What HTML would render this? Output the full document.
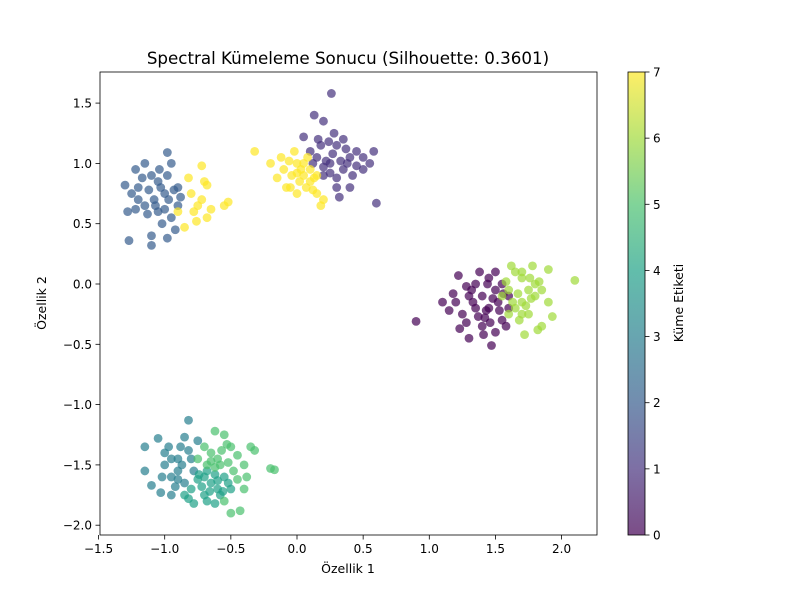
<!DOCTYPE html>
<html><head><meta charset="utf-8"><style>
body{margin:0;background:#fff;}
svg{font-family:"DejaVu Sans","Liberation Sans",sans-serif;}
</style></head><body>
<svg id="chart" width="800" height="600" xmlns="http://www.w3.org/2000/svg">
<text x="348" y="64" font-size="16.7" text-anchor="middle">Spectral Kümeleme Sonucu (Silhouette: 0.3601)</text>
<text x="348" y="573" font-size="12.5" text-anchor="middle">Özellik 1</text>
<text x="46" y="303" font-size="12.5" text-anchor="middle" transform="rotate(-90 46 303)">Özellik 2</text>
<text x="683" y="303" font-size="12.5" text-anchor="middle" transform="rotate(-90 683 303)">Küme Etiketi</text>
<defs><linearGradient id="vir" x1="0" y1="1" x2="0" y2="0">
<stop offset="0" stop-color="#440154"/><stop offset="0.143" stop-color="#46327e"/><stop offset="0.286" stop-color="#365c8d"/><stop offset="0.429" stop-color="#277f8e"/><stop offset="0.571" stop-color="#1fa187"/><stop offset="0.714" stop-color="#4ac16d"/><stop offset="0.857" stop-color="#a0da39"/><stop offset="1" stop-color="#fde725"/>
</linearGradient></defs>
<rect x="628" y="72" width="17" height="463" fill="url(#vir)" opacity="0.7"/>
<rect x="628" y="72" width="17" height="463" fill="none" stroke="#000" stroke-width="0.8"/>
<g id="marks"></g>
<rect x="100" y="72" width="497" height="463" fill="none" stroke="#000" stroke-width="0.8"/>
</svg>
<script>
const xTicks=[-1.5,-1.0,-0.5,0.0,0.5,1.0,1.5,2.0];
const yTicks=[-2.0,-1.5,-1.0,-0.5,0.0,0.5,1.0,1.5];
const cbTicks=[0,1,2,3,4,5,6,7];
const clusterColors=["#440154","#46327e","#365c8d","#277f8e","#1fa187","#4ac16d","#a0da39","#fde725"];
const cluster0=[[1.45,-0.2],[1.3,-0.1],[1.5,-0.05],[1.55,-0.3],[1.4,-0.35],[1.35,0.0],[1.6,-0.2],[1.25,-0.25],[1.2,-0.15],[1.38,0.1],[1.45,0.05],[1.5,-0.4],[1.3,-0.45],[1.47,-0.51],[1.22,0.07],[1.15,-0.22],[1.1,-0.15],[0.9,-0.31],[1.55,0.0],[1.6,-0.1],[1.42,-0.28],[1.35,-0.2],[1.52,-0.15],[1.28,-0.32],[1.4,-0.1],[1.58,-0.35],[1.23,-0.37],[1.32,-0.05],[1.48,-0.12],[1.43,-0.22],[1.37,-0.27],[1.53,-0.22],[1.33,-0.15],[1.46,-0.32],[1.5,0.1],[1.28,-0.02],[1.18,-0.08],[1.41,-0.42],[1.56,-0.08],[1.44,0.0]];
const cluster1=[[0.25,1.0],[0.1,1.1],[0.3,1.15],[0.35,0.95],[0.2,0.9],[0.4,1.05],[0.5,0.95],[0.26,1.58],[0.13,1.4],[0.2,1.35],[0.05,1.22],[0.45,1.1],[0.58,1.1],[0.6,0.67],[0.4,0.8],[0.3,0.8],[0.15,1.05],[0.28,1.25],[0.35,1.2],[0.18,1.15],[0.42,0.9],[0.32,0.72],[0.5,1.05],[0.22,1.02],[0.38,1.0],[0.27,1.08],[0.33,1.02],[0.2,0.97],[0.12,1.0],[0.37,1.12],[0.45,0.98],[0.25,0.92],[0.3,0.88],[0.16,1.2],[0.24,1.18],[0.55,1.0]];
const cluster2=[[-1.0,0.75],[-1.2,0.8],[-1.1,0.9],[-0.9,0.8],[-1.05,0.6],[-1.15,0.65],[-1.3,0.82],[-1.28,0.6],[-1.27,0.36],[-1.1,0.4],[-1.1,0.32],[-0.98,0.38],[-0.95,1.0],[-0.98,1.09],[-1.15,1.0],[-1.22,0.95],[-0.88,0.72],[-0.9,0.65],[-1.05,0.85],[-0.95,0.55],[-1.2,0.7],[-1.02,0.5],[-0.92,0.45],[-1.08,0.7],[-0.98,0.9],[-1.25,0.75],[-1.03,0.8],[-1.12,0.78],[-0.97,0.7],[-1.07,0.65],[-1.0,0.62],[-1.17,0.88],[-0.93,0.78],[-1.13,0.58],[-1.04,0.95],[-1.22,0.62]];
const cluster3=[[-0.9,-1.55],[-1.0,-1.4],[-1.15,-1.55],[-1.1,-1.67],[-1.03,-1.73],[-0.95,-1.6],[-1.15,-1.35],[-0.82,-1.13],[-0.85,-1.27],[-0.9,-1.45],[-1.05,-1.28],[-0.75,-1.3],[-0.8,-1.45],[-0.95,-1.75],[-0.85,-1.65],[-1.0,-1.5],[-0.88,-1.35],[-0.92,-1.68],[-0.78,-1.55],[-0.95,-1.45],[-0.87,-1.5],[-1.02,-1.6],[-0.82,-1.38],[-0.97,-1.35],[-0.9,-1.62]];
const cluster4=[[-0.65,-1.65],[-0.7,-1.75],[-0.6,-1.7],[-0.55,-1.6],[-0.75,-1.62],[-0.82,-1.78],[-0.78,-1.82],[-0.62,-1.82],[-0.5,-1.7],[-0.68,-1.55],[-0.72,-1.68],[-0.58,-1.75],[-0.7,-1.6],[-0.52,-1.65],[-0.62,-1.58],[-0.8,-1.7],[-0.66,-1.72],[-0.74,-1.58],[-0.6,-1.63],[-0.56,-1.72],[-0.85,-1.75],[-0.68,-1.8]];
const cluster5=[[-0.6,-1.45],[-0.5,-1.35],[-0.4,-1.5],[-0.35,-1.35],[-0.55,-1.25],[-0.62,-1.22],[-0.45,-1.62],[-0.5,-1.9],[-0.43,-1.88],[-0.2,-1.53],[-0.17,-1.54],[-0.65,-1.4],[-0.48,-1.55],[-0.7,-1.35],[-0.58,-1.5],[-0.55,-1.8],[-0.4,-1.7],[-0.68,-1.5],[-0.32,-1.38],[-0.75,-1.45],[-0.52,-1.48],[-0.62,-1.52],[-0.45,-1.42],[-0.57,-1.38],[-0.53,-1.33],[-0.38,-1.6],[-0.65,-1.47]];
const cluster6=[[1.7,-0.15],[1.65,0.1],[1.8,0.0],[1.75,-0.25],[1.6,-0.05],[1.9,0.12],[2.1,0.03],[1.85,-0.35],[1.93,-0.27],[1.72,-0.42],[1.68,-0.3],[1.8,-0.1],[1.62,0.15],[1.7,0.05],[1.55,-0.1],[1.78,0.15],[1.85,-0.05],[1.65,-0.2],[1.75,-0.05],[1.9,-0.15],[1.6,-0.25],[1.82,-0.38],[1.7,0.1],[1.67,-0.08],[1.73,-0.18],[1.77,-0.12],[1.63,-0.15],[1.7,-0.25],[1.83,0.02],[1.58,0.02],[1.76,0.05]];
const cluster7=[[0.05,0.9],[0.0,1.0],[-0.1,0.95],[0.1,0.85],[-0.05,0.8],[0.15,0.9],[0.0,0.75],[0.2,0.7],[-0.2,1.0],[-0.32,1.1],[-0.15,0.88],[0.08,1.05],[-0.02,1.1],[0.12,0.78],[0.18,0.65],[-0.08,0.8],[0.03,0.95],[0.1,0.95],[-0.12,1.05],[0.02,0.85],[0.07,0.8],[-0.04,0.9],[0.13,0.88],[0.05,1.0],[-0.06,1.02],[0.15,0.75],[0.0,0.92],[-0.75,0.65],[-0.7,0.85],[-0.82,0.88],[-0.72,0.98],[-0.68,0.55],[-0.78,0.6],[-0.85,0.47],[-0.55,0.65],[-0.52,0.68],[-0.65,0.62],[-0.8,0.75],[-0.72,0.7],[-0.9,0.6],[-0.68,0.82],[-0.76,0.52]];
const clusters=[cluster0,cluster1,cluster2,cluster3,cluster4,cluster5,cluster6,cluster7];

const NS="http://www.w3.org/2000/svg";
const svg=document.getElementById('chart');
const g=document.getElementById('marks');
function xs(v){return 297+v*132.3;}
function ys(v){return 284-v*120.6;}
function cbs(v){return 535-v*(463/7);}
function fmt(v){return (v<0?'\u2212':'')+Math.abs(v).toFixed(1);}
function mk(tag,attrs){const e=document.createElementNS(NS,tag);for(const k in attrs)e.setAttribute(k,attrs[k]);return e;}

clusters.forEach((pts,ci)=>{
  pts.forEach(p=>{
    const c=mk('circle',{cx:xs(p[0]),cy:ys(p[1]),r:4.4,fill:clusterColors[ci],'fill-opacity':0.7});
    
    
    g.appendChild(c);
  });
});
xTicks.forEach(t=>{
  const x=xs(t);
  svg.appendChild(mk('line',{x1:x,x2:x,y1:535,y2:539.5,stroke:'#000','stroke-width':0.8}));
  const tx=mk('text',{x:x,y:553,'font-size':12,'text-anchor':'middle'});
  tx.textContent=fmt(t);
  
  
  svg.appendChild(tx);
});
yTicks.forEach(t=>{
  const y=ys(t);
  svg.appendChild(mk('line',{x1:95.5,x2:100,y1:y,y2:y,stroke:'#000','stroke-width':0.8}));
  const tx=mk('text',{x:92,y:y+4.5,'font-size':12,'text-anchor':'end'});
  tx.textContent=fmt(t);
  
  
  svg.appendChild(tx);
});
cbTicks.forEach(t=>{
  const y=cbs(t);
  svg.appendChild(mk('line',{x1:645,x2:649.5,y1:y,y2:y,stroke:'#000','stroke-width':0.8}));
  const tx=mk('text',{x:653,y:y+4.5,'font-size':12});
  tx.textContent=String(t);
  
  
  svg.appendChild(tx);
});
</script>
</body></html>
